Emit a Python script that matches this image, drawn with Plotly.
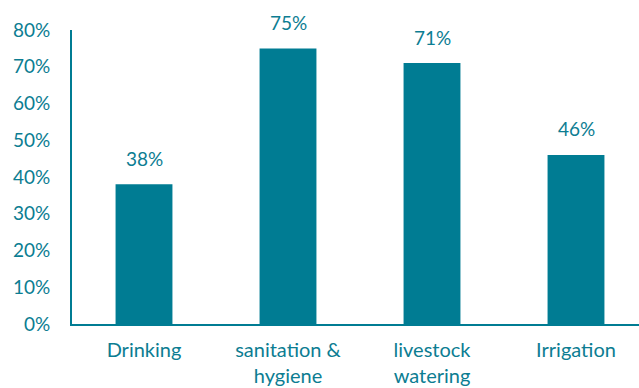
import plotly.graph_objects as go

# Share of respondents by water use
categories = ["Drinking", "sanitation &<br>hygiene", "livestock<br>watering", "Irrigation"]
values = [38, 75, 71, 46]
y_ticks = [0, 10, 20, 30, 40, 50, 60, 70, 80]
y_tick_labels = [f"{t}%" for t in y_ticks]

TEAL = "#007C93"
TEXT = "#0C7D92"
FONT = "Lato, 'Open Sans', sans-serif"

fig = go.Figure(
    go.Bar(
        x=list(range(len(categories))),
        y=values,
        marker=dict(color=TEAL, line=dict(width=0)),
        width=0.395,
        hoverinfo="skip",
    )
)

for i, v in enumerate(values):
    fig.add_annotation(
        x=i, y=v, text=f"{v}%", showarrow=False,
        yanchor="middle", yshift=26,
        font=dict(family=FONT, size=19, color=TEXT),
    )

fig.update_layout(
    width=639, height=388,
    margin=dict(l=72, r=0, t=30, b=64),
    paper_bgcolor="white", plot_bgcolor="white",
    showlegend=False,
    font=dict(family=FONT, size=19, color=TEXT),
)

fig.update_xaxes(
    range=[-0.5, 3.4375],
    tickmode="array",
    tickvals=list(range(len(categories))),
    ticktext=categories,
    showline=True, linecolor=TEAL, linewidth=2,
    showgrid=False, zeroline=False, ticks="",
    ticklabelstandoff=7,
    tickfont=dict(family=FONT, size=20, color=TEXT),
)

fig.update_yaxes(
    range=[0, 80],
    tickmode="array",
    tickvals=y_ticks,
    ticktext=y_tick_labels,
    showline=True, linecolor=TEAL, linewidth=2,
    showgrid=False, zeroline=False, ticks="",
    ticklabelstandoff=16,
    tickfont=dict(family=FONT, size=19, color=TEXT),
)

fig.write_html("out.html")
